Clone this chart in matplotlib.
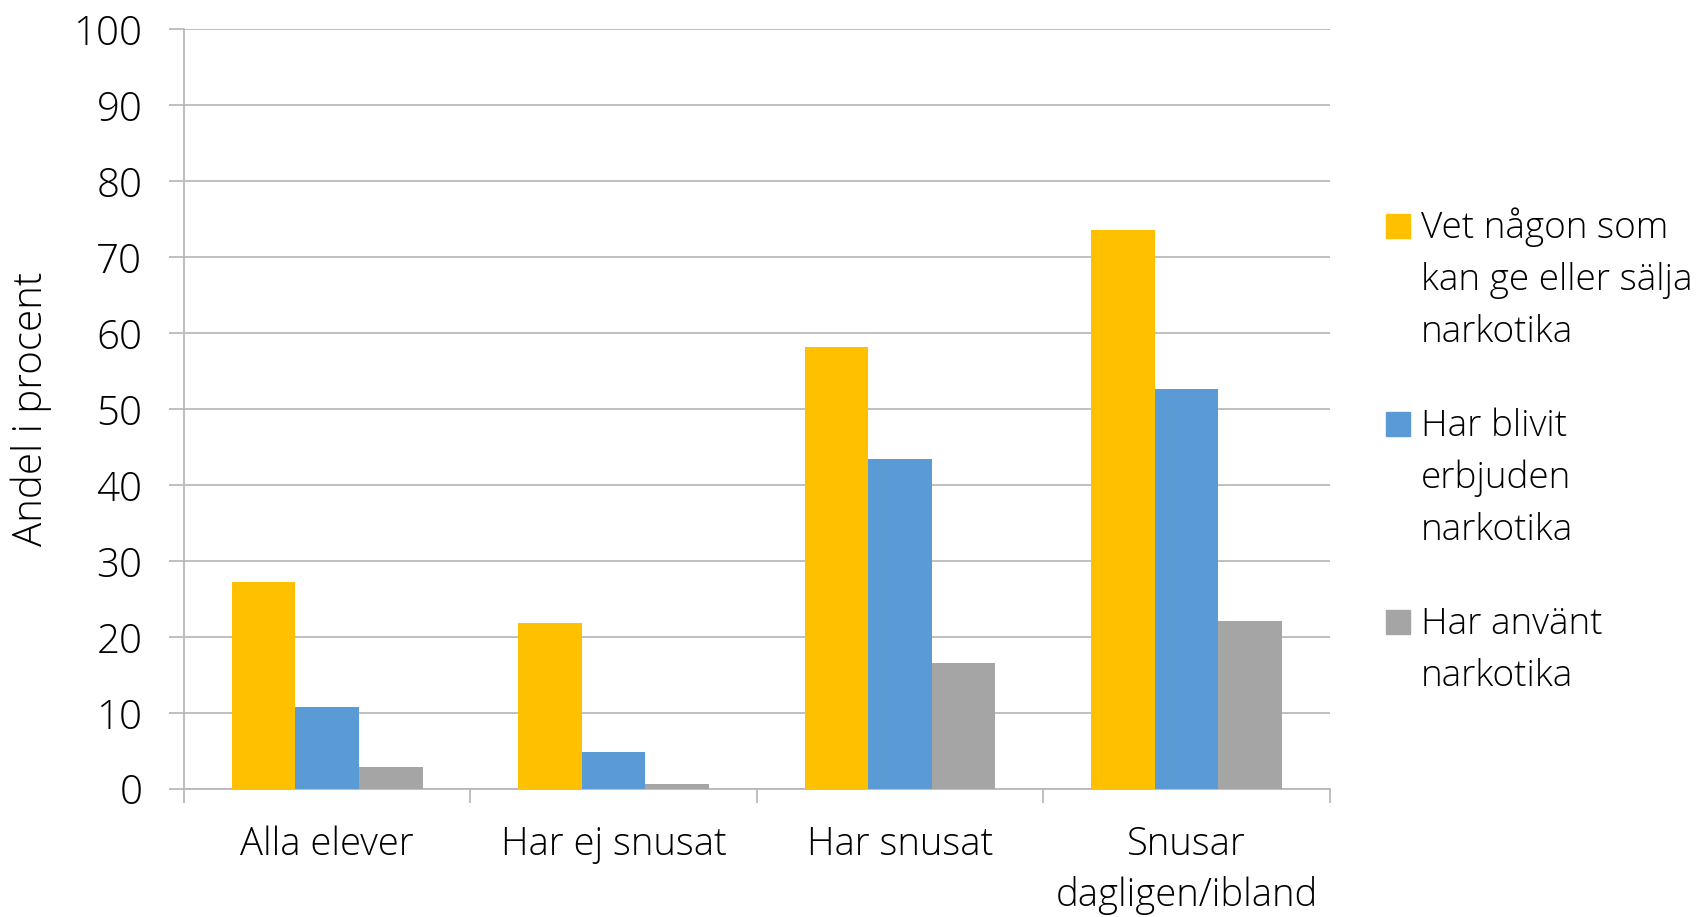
import numpy as np
import matplotlib
matplotlib.use("Agg")
import matplotlib.pyplot as plt
from matplotlib.patches import Rectangle

# --- Données ---
categories = ["Alla elever", "Har ej snusat", "Har snusat", "Snusar\ndagligen/ibland"]
series_labels = ["Vet någon som\nkan ge eller sälja\nnarkotika",
                 "Har blivit\nerbjuden\nnarkotika",
                 "Har använt\nnarkotika"]
vet_nagon = [27.3, 21.8, 58.2, 73.6]
erbjuden = [10.8, 4.9, 43.5, 52.6]
anvant = [2.9, 0.7, 16.6, 22.1]
couleurs = ["#FFC000", "#5B9BD5", "#A5A5A5"]

plt.rcParams["font.family"] = ["Open Sans", "DejaVu Sans"]
plt.rcParams["font.weight"] = "light"
GRIS = "#B4B4B4"

fig = plt.figure(figsize=(17.07, 9.17), dpi=100)
ax = fig.add_axes([0.1078, 0.1396, 0.779 - 0.1078, 0.968 - 0.1396])

x = np.arange(len(categories))
w = 0.222
for i, (vals, c) in enumerate(zip([vet_nagon, erbjuden, anvant], couleurs)):
    ax.bar(x + (i - 1) * w, vals, width=w, color=c, zorder=3)

ax.set_xlim(-0.5, len(categories) - 0.5)
ax.set_ylim(0, 100)
ax.set_yticks(np.arange(0, 101, 10))
ax.yaxis.grid(True, color=GRIS, linewidth=1.2, zorder=0)

ax.set_xticks(x)
ax.set_xticklabels(categories, fontsize=27.5, linespacing=1.42)
ax.set_xticks(np.arange(-0.5, len(categories), 1), minor=True)
ax.tick_params(axis="x", which="major", length=0, pad=26)
ax.tick_params(axis="x", which="minor", length=10, width=1.2, color=GRIS, direction="out")
ax.tick_params(axis="y", length=11, width=1.2, color=GRIS, labelsize=29, pad=19)

for s in ["top", "right"]:
    ax.spines[s].set_visible(False)
for s in ["left", "bottom"]:
    ax.spines[s].set_color(GRIS)
    ax.spines[s].set_linewidth(1.2)

ax.set_ylabel("Andel i procent", fontsize=29, fontweight="light")
ax.yaxis.set_label_coords(-0.115, 0.5)

# --- Légende ---
W, H = 1707, 917
y_base = [238, 436, 634]
pas = 52
for lab, c, yb in zip(series_labels, couleurs, y_base):
    yc = yb - 12
    fig.patches.append(Rectangle((1386 / W, 1 - (yc + 12) / H), 24 / W, 24 / H,
                                 transform=fig.transFigure, color=c))
    for k, ligne in enumerate(lab.split("\n")):
        fig.text(1421 / W, 1 - (yb + k * pas) / H, ligne, fontsize=26.6,
                 va="baseline", ha="left")

fig.savefig("out.png", dpi=100)
